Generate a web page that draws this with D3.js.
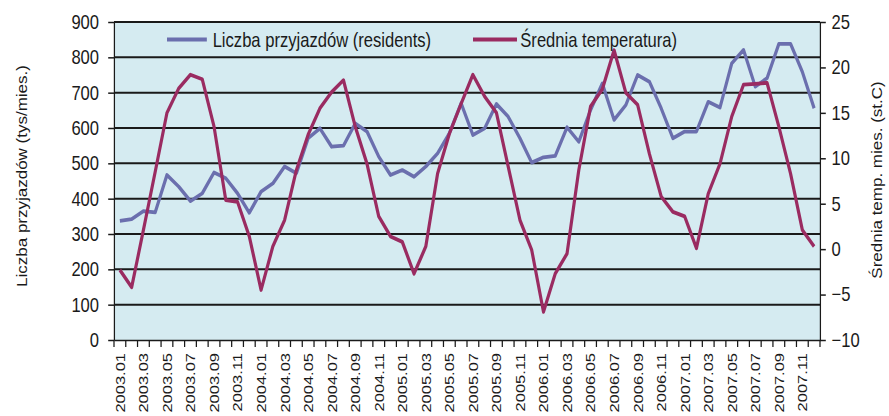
<!DOCTYPE html>
<html>
<head>
<meta charset="UTF-8">
<title>Liczba przyjazdów i średnia temperatura</title>
<script src="https://d3js.org/d3.v7.min.js"></script>
<style>
  body { margin: 0; background: #fff; }
  svg { display: block; }
  text { font-family: "Liberation Sans", Arial, sans-serif; fill: #1a1a1a; }
  .axis path, .axis line { stroke: #1a1a1a; stroke-width: 1.5; }
  .grid line { stroke: #1a1a1a; stroke-width: 2; }
</style>
</head>
<body>
<svg id="chart" width="889" height="416"></svg>
<script>
// months 2003.01 .. 2007.12
var months = [];
[2003, 2004, 2005, 2006, 2007].forEach(function (y) {
  for (var m = 1; m <= 12; m++) months.push(y + "." + (m < 10 ? "0" + m : m));
});

// Liczba przyjazdów (residents), tys/mies.
var residents = [
  337, 342, 365, 361, 467, 434, 393, 415, 474, 458, 415, 360,
  420, 443, 491, 472, 571, 599, 547, 550, 613, 590, 519, 467,
  481, 462, 491, 528, 585, 670, 580, 599, 668, 632, 571, 502,
  517, 521, 602, 561, 651, 726, 623, 665, 750, 731, 656, 571,
  590, 590, 674, 658, 783, 821, 717, 741, 838, 838, 759, 656
];

// Średnia temperatura, st.C
var temperature = [
  -2.3, -4.2, 2.1, 8.5, 15.0, 17.7, 19.2, 18.7, 13.5, 5.4, 5.2, 1.4,
  -4.5, 0.3, 3.2, 8.7, 12.6, 15.5, 17.3, 18.6, 13.5, 9.4, 3.6, 1.4,
  0.8, -2.7, 0.3, 8.3, 12.7, 16.0, 19.2, 16.8, 15.0, 9.1, 3.2, -0.1,
  -6.9, -2.7, -0.5, 8.7, 15.7, 17.6, 21.9, 17.2, 15.9, 10.5, 5.8, 4.1,
  3.6, 0.1, 6.1, 9.4, 14.6, 18.1, 18.2, 18.3, 13.5, 8.3, 2.1, 0.3
];

var leftTicks = d3.range(0, 901, 100);
var rightTicks = d3.range(-10, 26, 5);
var seriesNames = ["Liczba przyjazdów (residents)", "Średnia temperatura)"];
var colors = ["#6b6fae", "#9a2b61"];

// the original picture is squeezed horizontally, draw wide and squeeze
var SX = 0.83;
var plotL = 114 / SX, plotR = 820 / SX, plotT = 22, plotB = 340;

var svg = d3.select("#chart");
var g = svg.append("g").attr("transform", "scale(" + SX + ",1)");

var x = d3.scaleBand().domain(months).range([plotL, plotR]);
var yL = d3.scaleLinear().domain([0, 900]).range([plotB, plotT]);
var yR = d3.scaleLinear().domain([-10, 25]).range([plotB, plotT]);

// plot background
g.append("rect")
  .attr("x", plotL).attr("y", plotT)
  .attr("width", plotR - plotL).attr("height", plotB - plotT)
  .attr("fill", "#d5ebf1");

// grid
g.append("g").attr("class", "grid")
  .selectAll("line")
  .data(leftTicks.slice(1))
  .enter().append("line")
  .attr("x1", plotL).attr("x2", plotR)
  .attr("y1", d => yL(d)).attr("y2", d => yL(d));

// left axis
var axL = g.append("g").attr("class", "axis")
  .attr("transform", "translate(" + plotL + ",0)")
  .call(d3.axisLeft(yL).tickValues(leftTicks).tickSize(7).tickSizeOuter(0).tickPadding(11));
axL.selectAll("text").style("font-size", "20px");

// right axis
var axR = g.append("g").attr("class", "axis")
  .attr("transform", "translate(" + plotR + ",0)")
  .call(d3.axisRight(yR).tickValues(rightTicks).tickSize(7).tickSizeOuter(0).tickPadding(7));
axR.selectAll("text").style("font-size", "20px");

// bottom axis: labels every other month, tick marks between categories
var axB = g.append("g").attr("class", "axis")
  .attr("transform", "translate(0," + plotB + ")")
  .call(d3.axisBottom(x).tickValues(months.filter((d, i) => i % 2 === 0)).tickSize(0).tickSizeOuter(0));
axB.selectAll("text")
  .style("font-size", "16.5px")
  .attr("transform", "rotate(-90)")
  .attr("text-anchor", "end")
  .attr("x", -13).attr("y", 0).attr("dy", "0.36em");
axB.selectAll(".tick-mark")
  .data(months.map(d => x(d)).concat([x.range()[1]]))
  .enter().append("line")
  .attr("class", "tick-mark")
  .attr("x1", d => d).attr("x2", d => d)
  .attr("y1", 0).attr("y2", 7);

// lines
var lineL = d3.line().x((d, i) => x(months[i]) + x.bandwidth() / 2).y(d => yL(d));
var lineR = d3.line().x((d, i) => x(months[i]) + x.bandwidth() / 2).y(d => yR(d));

g.append("path").datum(residents)
  .attr("fill", "none").attr("stroke", colors[0])
  .attr("stroke-width", 3.8).attr("stroke-linejoin", "round")
  .attr("d", lineL);

g.append("path").datum(temperature)
  .attr("fill", "none").attr("stroke", colors[1])
  .attr("stroke-width", 3.8).attr("stroke-linejoin", "round")
  .attr("d", lineR);

// legend
var legendPos = [167 / SX, 473 / SX];
var legend = g.append("g").selectAll("g")
  .data(seriesNames)
  .enter().append("g")
  .attr("transform", (d, i) => "translate(" + legendPos[i] + ",39.5)");
legend.append("line")
  .attr("x1", 0).attr("x2", (d, i) => i === 0 ? 48 : 53)
  .attr("stroke", (d, i) => colors[i]).attr("stroke-width", 3.8);
legend.append("text")
  .attr("x", (d, i) => i === 0 ? 55 : 57)
  .attr("y", 7.5)
  .style("font-size", "20px")
  .text(d => d);

// axis titles
g.append("text")
  .attr("transform", "translate(" + (22 / SX) + ",176) rotate(-90)")
  .attr("text-anchor", "middle").attr("dy", "0.35em")
  .style("font-size", "17px")
  .text("Liczba przyjazdów (tys/mies.)");

g.append("text")
  .attr("transform", "translate(" + (877 / SX) + ",180) rotate(-90)")
  .attr("text-anchor", "middle").attr("dy", "0.35em")
  .style("font-size", "17px")
  .text("Średnia temp. mies. (st.C)");
</script>
</body>
</html>
